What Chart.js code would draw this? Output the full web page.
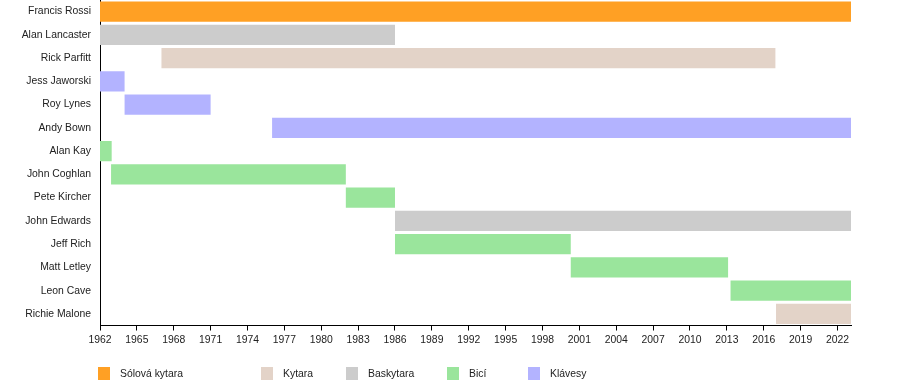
<!DOCTYPE html>
<html>
<head>
<meta charset="utf-8">
<script src="https://cdn.jsdelivr.net/npm/chart.js@4.4.0/dist/chart.umd.min.js"></script>
<style>
  body { margin: 0; background: #fff; }
  #wrap { position: relative; width: 900px; height: 385px; }
  #legend { position: absolute; left: 0; top: 367px; font: 10.4px "Liberation Sans", Arial, sans-serif; color: #222; }
  .item { position: absolute; top: 0; white-space: nowrap; }
  .box { position: absolute; left: 0; top: 0; width: 12px; height: 13px; }
  .lbl { position: absolute; left: 22px; top: 0; line-height: 13px; }
</style>
</head>
<body>
<div id="wrap">
  <canvas id="chart" width="900" height="385"></canvas>
  <div id="legend"></div>
</div>
<script>
// members, top to bottom
const members = ["Francis Rossi", "Alan Lancaster", "Rick Parfitt", "Jess Jaworski", "Roy Lynes",
  "Andy Bown", "Alan Kay", "John Coghlan", "Pete Kircher", "John Edwards", "Jeff Rich",
  "Matt Letley", "Leon Cave", "Richie Malone"]
const roles = ["Sólová kytara", "Kytara", "Baskytara", "Bicí", "Klávesy"]
// index into roles for every member
const memberRole = [0, 2, 1, 4, 4, 4, 3, 3, 3, 2, 3, 3, 3, 1]
const startYear = [1962, 1962, 1967, 1962, 1964, 1976, 1962, 1962.9, 1982, 1986, 1986, 2000.3, 2013.3, 2017]
const endYear = [2023.1, 1986, 2016.95, 1964, 1971, 2023.1, 1962.95, 1982, 1986, 2023.1, 2000.3, 2013.1, 2023.1, 2023.1]
const yearTicks = [1962, 1965, 1968, 1971, 1974, 1977, 1980, 1983, 1986, 1989, 1992, 1995, 1998,
  2001, 2004, 2007, 2010, 2013, 2016, 2019, 2022]

const roleColors = ["rgb(255,160,36)", "rgb(227,211,200)", "rgb(204,204,204)", "rgb(154,229,156)", "rgb(179,179,255)"]
const legendLeft = [98, 261, 346, 447, 528]
const font = { family: "'Liberation Sans', Arial, sans-serif", size: 10.4 }

const datasets = roles.map((role, r) => ({
  label: role,
  data: members.map((m, i) => memberRole[i] === r ? [startYear[i], endYear[i]] : null),
  backgroundColor: roleColors[r],
  borderWidth: 0,
  grouped: false,
  categoryPercentage: 1,
  barPercentage: 0.88
}))

new Chart(document.getElementById("chart"), {
  type: "bar",
  data: { labels: members, datasets: datasets },
  options: {
    indexAxis: "y",
    responsive: false,
    animation: false,
    layout: { padding: { left: 0, right: 49, top: 0, bottom: 36 } },
    plugins: { legend: { display: false }, tooltip: { enabled: false } },
    scales: {
      x: {
        type: "linear",
        min: 1962,
        max: 2023.1,
        grid: { drawOnChartArea: false, tickLength: 5, color: "#000" },
        border: { color: "#000", width: 1 },
        afterBuildTicks: s => { s.ticks = yearTicks.map(v => ({ value: v })) },
        ticks: { font: font, color: "#222", padding: 3, maxRotation: 0, autoSkip: false, callback: v => String(v) }
      },
      y: {
        grid: { drawOnChartArea: false, drawTicks: false },
        border: { color: "#000", width: 1 },
        afterFit: s => { s.width = 100; s.paddingTop = 0; s.paddingBottom = 0 },
        ticks: { font: font, color: "#222", padding: 9 }
      }
    }
  }
})

// legend below the chart
const legend = document.getElementById("legend")
roles.forEach((role, r) => {
  const item = document.createElement("div")
  item.className = "item"
  item.style.left = legendLeft[r] + "px"
  const box = document.createElement("div")
  box.className = "box"
  box.style.background = roleColors[r]
  const lbl = document.createElement("div")
  lbl.className = "lbl"
  lbl.textContent = role
  item.appendChild(box)
  item.appendChild(lbl)
  legend.appendChild(item)
})
</script>
</body>
</html>
